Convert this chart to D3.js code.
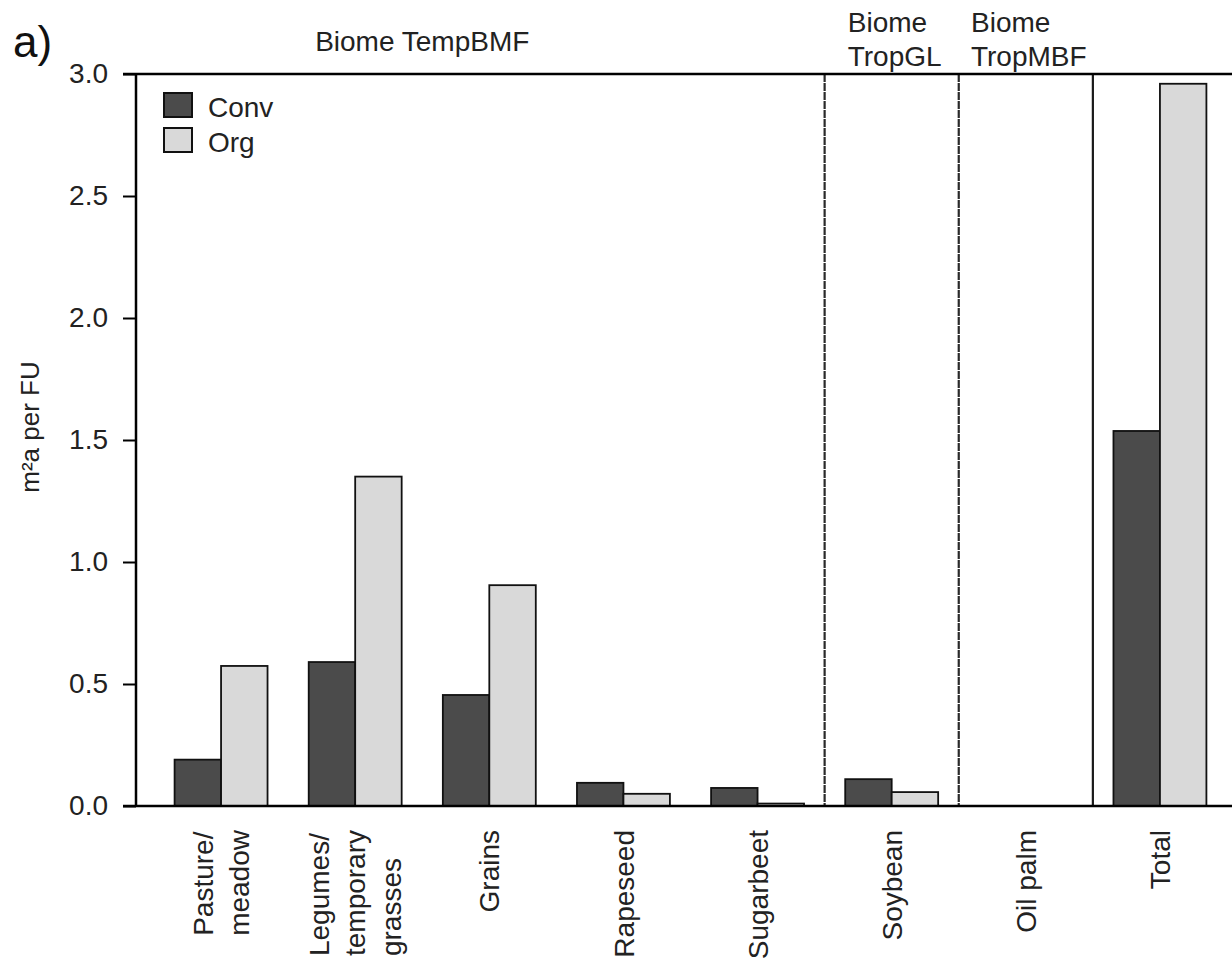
<!DOCTYPE html>
<html>
<head>
<meta charset="utf-8">
<script src="https://cdnjs.cloudflare.com/ajax/libs/d3/7.8.5/d3.min.js"></script>
<style>
  body { margin: 0; background: #fff; }
  svg { display: block; font-family: 'Liberation Sans', Arial, Helvetica, sans-serif; }
</style>
</head>
<body>
<svg></svg>
<script>
const w = 1232;
const h = 960;

// data (m2a per FU)
const categories = [
  'Pasture/\nmeadow',
  'Legumes/\ntemporary\ngrasses',
  'Grains',
  'Rapeseed',
  'Sugarbeet',
  'Soybean',
  'Oil palm',
  'Total'
];
const series = ['Conv', 'Org'];
const convValues = [0.19, 0.59, 0.455, 0.095, 0.074, 0.11, 0, 1.537];
const orgValues = [0.574, 1.35, 0.905, 0.05, 0.01, 0.057, 0, 2.96];
const yTicks = [0, 0.5, 1.0, 1.5, 2.0, 2.5, 3.0];
const biomeLabels = [['Biome', 'TropGL'], ['Biome', 'TropMBF']];
const biomeCats = ['Soybean', 'Oil palm'];

const colors = { Conv: '#4b4b4b', Org: '#d9d9d9' };
const fs = 28;

const svg = d3.select('svg').attr('width', w).attr('height', h);

const left = 136;
const yTop = 74;
const yBottom = 806;

const x = d3
  .scaleBand()
  .domain(categories)
  .range([154, 1227])
  .paddingInner(0.307)
  .paddingOuter(0.1535);

const xs = d3.scaleBand().domain(series).range([0, x.bandwidth()]);

const y = d3.scaleLinear().domain([0, 3]).range([yBottom, yTop]);

const rows = categories.map((c, i) => ({
  category: c,
  Conv: convValues[i],
  Org: orgValues[i]
}));

// bars
svg
  .append('g')
  .selectAll('g')
  .data(rows)
  .enter()
  .append('g')
  .attr('transform', d => `translate(${x(d.category)},0)`)
  .selectAll('rect')
  .data(d => series.filter(s => d[s] > 0).map(s => ({ key: s, value: d[s] })))
  .enter()
  .append('rect')
  .attr('x', d => xs(d.key))
  .attr('y', d => y(d.value))
  .attr('width', xs.bandwidth())
  .attr('height', d => y(0) - y(d.value))
  .attr('fill', d => colors[d.key])
  .attr('stroke', '#111')
  .attr('stroke-width', 1.8);

// biome separators
const step = x.step();
const sepX = c => x(c) - (step * x.paddingInner()) / 2;
['Soybean', 'Oil palm', 'Total'].forEach((c, i) => {
  svg
    .append('line')
    .attr('x1', sepX(c))
    .attr('x2', sepX(c))
    .attr('y1', yTop)
    .attr('y2', yBottom)
    .attr('stroke', i < 2 ? '#2a2a2a' : '#1a1a1a')
    .attr('stroke-width', 2.2)
    .attr('stroke-dasharray', i < 2 ? '8,1' : null);
});

// y axis
const yAxis = d3
  .axisLeft(y)
  .tickValues(yTicks)
  .tickFormat(d3.format('.1f'))
  .tickSize(13)
  .tickPadding(15);

const gy = svg
  .append('g')
  .attr('transform', `translate(${left},0)`)
  .call(yAxis);
gy.select('.domain').remove();
gy.selectAll('.tick line').attr('stroke', '#000').attr('stroke-width', 2);
gy.selectAll('.tick text')
  .attr('font-size', fs)
  .attr('font-family', 'Liberation Sans, Arial, sans-serif')
  .attr('fill', '#222');

svg
  .append('line')
  .attr('x1', left)
  .attr('x2', left)
  .attr('y1', yTop - 1)
  .attr('y2', yBottom + 1)
  .attr('stroke', '#000')
  .attr('stroke-width', 2.5);

// top frame and baseline
[yTop, yBottom].forEach(yy => {
  svg
    .append('line')
    .attr('x1', left - 13)
    .attr('x2', w)
    .attr('y1', yy)
    .attr('y2', yy)
    .attr('stroke', '#000')
    .attr('stroke-width', 2.5);
});

// y title
svg
  .append('text')
  .attr('transform', 'translate(39,427) rotate(-90)')
  .attr('text-anchor', 'middle')
  .attr('font-size', 26)
  .attr('fill', '#222')
  .text('m\u00b2a per FU');

// x category labels: block touches y=830, lines left-aligned inside it
const lh = 36;
categories.forEach(c => {
  const lines = c.split('\n');
  const cx = x(c) + x.bandwidth() / 2;
  const t = svg
    .append('text')
    .attr('text-anchor', 'start')
    .attr('font-size', fs)
    .attr('fill', '#222');
  const spans = lines.map((line, i) =>
    t
      .append('tspan')
      .attr('x', 0)
      .attr('y', (i - (lines.length - 1) / 2) * lh)
      .attr('dy', '0.36em')
      .text(line)
  );
  const longest = d3.max(spans, s => s.node().getComputedTextLength());
  t.attr('transform', `translate(${cx},${830 + longest}) rotate(-90)`);
});

// biome headers
const tempCenter = (x(categories[0]) + x('Rapeseed') + x.bandwidth()) / 2;
svg
  .append('text')
  .attr('x', tempCenter)
  .attr('y', 51)
  .attr('text-anchor', 'middle')
  .attr('font-size', fs)
  .attr('fill', '#222')
  .text('Biome TempBMF');

biomeLabels.forEach((lines, k) => {
  const c = biomeCats[k];
  const colMid = (sepX(c) + sepX(categories[categories.indexOf(c) + 1])) / 2;
  const t = svg.append('text').attr('font-size', fs).attr('fill', '#222');
  const spans = lines.map((line, i) =>
    t.append('tspan').attr('y', 32 + i * 34).text(line)
  );
  const longest = d3.max(spans, s => s.node().getComputedTextLength());
  spans.forEach(s => s.attr('x', colMid - longest / 2 + 3));
});

// legend
series.forEach((s, i) => {
  svg
    .append('rect')
    .attr('x', 164)
    .attr('y', 93 + i * 35)
    .attr('width', 28)
    .attr('height', 24)
    .attr('fill', colors[s])
    .attr('stroke', '#111')
    .attr('stroke-width', 2);
  svg
    .append('text')
    .attr('x', 208)
    .attr('y', 117 + i * 35)
    .attr('font-size', fs)
    .attr('fill', '#222')
    .text(s);
});

// panel letter
svg
  .append('text')
  .attr('x', 13)
  .attr('y', 57)
  .attr('font-size', 44)
  .attr('fill', '#111')
  .text('a)');
</script>
</body>
</html>
